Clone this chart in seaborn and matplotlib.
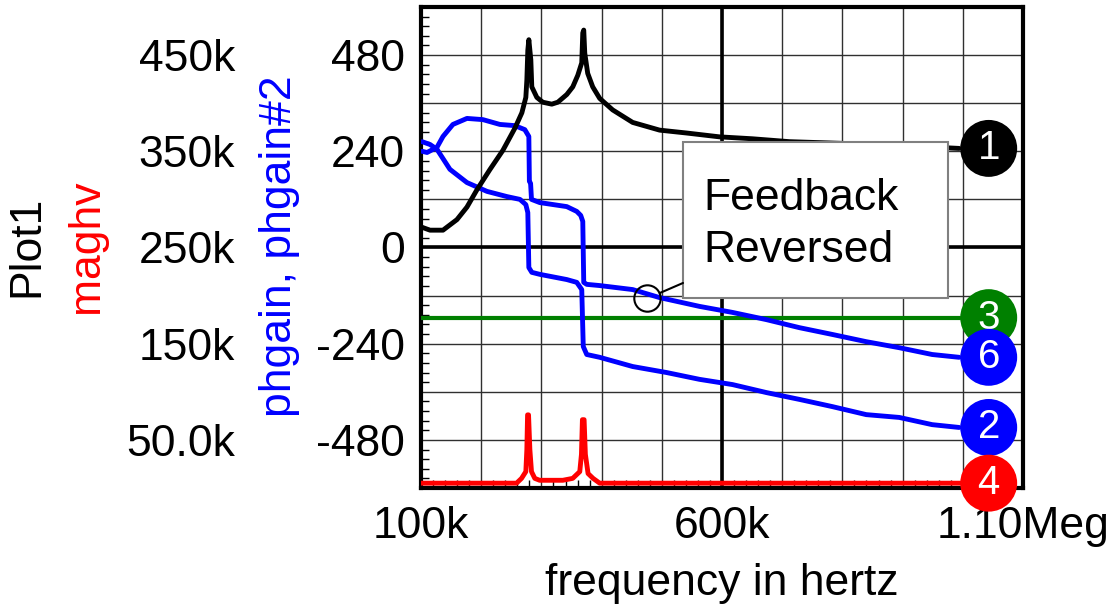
import matplotlib
matplotlib.use("Agg")
import numpy as np
import pandas as pd
import matplotlib.pyplot as plt
import seaborn as sns
from matplotlib.patches import Rectangle
from matplotlib.ticker import MultipleLocator, NullLocator

# ---- data (frequency in kHz) ----
# trace 1 (black), Plot1 scale, in k
f_black = [101.7, 114.9, 136.5, 159.7, 176.3, 192.9, 214.4, 236.0, 255.9, 267.5,
           274.1, 275.8, 277.4, 279.1, 282.4, 284.0, 292.4, 302.3, 317.2, 327.2,
           342.1, 352.1, 360.4, 367.0, 368.7, 370.3, 372.0, 376.9, 385.2, 396.8,
           418.4, 451.6, 496.3, 541.1, 595.9, 650.6, 712.0, 811.4, 894.4, 993.9]
v_black = [271, 268, 268, 279, 292, 310, 331, 351, 374, 390,
           406, 424, 455, 466, 445, 417, 406, 401, 399, 401,
           409, 417, 429, 442, 473, 476, 452, 431, 417, 405,
           393, 380, 372, 369, 365, 363, 360, 358, 356, 353]

# trace 4 (red), maghv in k
f_red = [100.0, 258.7, 267.0, 274.1, 275.8, 277.0, 278.6, 280.8, 283.5, 289.0, 297.0,
         335.5, 352.0, 363.7, 366.5, 368.1, 370.9, 373.0, 377.5, 385.8, 396.8, 995.0]
v_red = [5, 5, 10, 17, 40, 76, 76, 40, 17, 10, 8,
         8, 10, 17, 35, 71, 71, 35, 15, 10, 5, 5]

# trace 6 (blue), phgain#2 in degrees
f_ph2 = [101.7, 110.0, 126.5, 136.5, 153.0, 176.3, 202.8, 231.0, 255.9, 272.4,
         279.1, 280.0, 282.0, 283.5, 297.3, 342.1, 358.7, 365.3, 368.7, 370.3,
         375.3, 396.8, 451.6, 496.3, 562.7, 617.4, 673.8, 728.5, 783.3, 839.6,
         894.4, 949.1, 993.9]
v_ph2 = [240, 237, 250, 277, 307, 322, 319, 307, 304, 294,
         277, 165, 160, 120, 112, 102, 90, 80, 65, -87,
         -92, -95, -105, -125, -147, -162, -180, -200, -217, -235,
         -250, -267, -274]

# trace 2 (blue), phgain in degrees
f_ph = [101.7, 114.9, 126.5, 148.0, 176.3, 209.5, 242.7, 264.3, 274.1, 277.4,
        279.1, 284.0, 297.3, 342.1, 358.7, 367.0, 369.5, 375.3, 396.8, 451.6,
        508.0, 562.7, 617.4, 673.8, 728.5, 783.3, 839.6, 894.4, 949.1, 993.9]
v_ph = [264, 257, 245, 195, 162, 140, 127, 120, 107, 87,
        -50, -62, -67, -80, -87, -105, -247, -267, -274, -297,
        -312, -329, -342, -362, -379, -397, -417, -424, -442, -449]

# trace 3 (green), flat reference
f_ref = [100.0, 995.0]
v_ref = [-175, -175]

x_ticks = [100, 200, 300, 400, 500, 600, 700, 800, 900, 1000, 1100]
x_ticklabels = ['100k', '', '', '', '', '600k', '', '', '', '', '1.10Meg']
ph_ticks = [-600, -480, -360, -240, -120, 0, 120, 240, 360, 480, 600]
ph_ticklabels = ['', '-480', '', '-240', '', '0', '', '240', '', '480', '']
mag_ticks = [50, 150, 250, 350, 450]
mag_ticklabels = ['50.0k', '150k', '250k', '350k', '450k']

# ---- style ----
sns.set_style("white")
plt.rcParams['font.family'] = ['Liberation Sans', 'DejaVu Sans']
plt.rcParams.update({'text.color': 'black', 'axes.labelcolor': 'black',
                     'xtick.color': 'black', 'ytick.color': 'black'})
FS = 32

fig = plt.figure(figsize=(11.15, 6.08), dpi=100)
ax = fig.add_axes([0.3776, 0.1974, 0.5399, 0.7911])
ax2 = ax.twinx()

def df_of(f, v, scale):
    return pd.DataFrame({'f': np.array(f) * 1e3, 'v': np.array(v) * scale})

# phase traces on the inner axis
sns.lineplot(data=df_of(f_ref, v_ref, 1), x='f', y='v', ax=ax, color='#008000',
             lw=3.0, estimator=None, sort=False, zorder=3)
sns.lineplot(data=df_of(f_ph2, v_ph2, 1), x='f', y='v', ax=ax, color='#0000ff',
             lw=3.5, estimator=None, sort=False, zorder=3)
sns.lineplot(data=df_of(f_ph, v_ph, 1), x='f', y='v', ax=ax, color='#0000ff',
             lw=3.5, estimator=None, sort=False, zorder=3)

# magnitude traces on the outer axis
sns.lineplot(data=df_of(f_black, v_black, 1e3), x='f', y='v', ax=ax2, color='black',
             lw=3.5, estimator=None, sort=False, zorder=3)
sns.lineplot(data=df_of(f_red, v_red, 1e3), x='f', y='v', ax=ax2, color='#ff0000',
             lw=3.5, estimator=None, sort=False, zorder=3)

ax.set_xlim(100e3, 1.1e6)
ax.set_ylim(-600, 600)
ax2.set_ylim(0, 500e3)

ax.set_xticks(np.array(x_ticks) * 1e3)
ax.set_xticklabels(x_ticklabels)
ax.set_yticks(ph_ticks)
ax.set_yticklabels(ph_ticklabels)
ax.xaxis.set_minor_locator(MultipleLocator(20e3))
ax.yaxis.set_minor_locator(MultipleLocator(24))
ax.tick_params(which='major', length=0, labelsize=FS, labelcolor='black')
ax.tick_params(axis='y', which='major', pad=11.5)
ax.tick_params(axis='x', which='major', pad=13)
ax.tick_params(which='minor', direction='in', length=6, width=1.0, color='black',
               left=True, bottom=True, right=False, top=False)

ax2.yaxis.tick_left()
ax2.set_yticks(np.array(mag_ticks) * 1e3)
ax2.set_yticklabels(mag_ticklabels)
ax2.yaxis.set_minor_locator(NullLocator())
ax2.tick_params(axis='y', length=0, pad=134, labelsize=FS, labelcolor='black')
for s in ax2.spines.values():
    s.set_visible(False)

ax.grid(True, which='major', color='#303030', lw=1.0)
ax.set_axisbelow(True)
ax.axvline(600e3, color='black', lw=2.6, zorder=1.5)
ax.axhline(0, color='black', lw=2.6, zorder=1.5)
for s in ax.spines.values():
    s.set_visible(True)
    s.set_color('black')
    s.set_linewidth(3.0)

for a in (ax, ax2):
    a.set_xlabel('')
    a.set_ylabel('')

# numbered trace markers at the right end
LABEL_F = 1043e3
markers = [(ax2, v_black[-1] * 1e3, 'black', '1'),
           (ax, v_ref[-1], '#008000', '3'),
           (ax, v_ph2[-1], '#0000ff', '6'),
           (ax, v_ph[-1], '#0000ff', '2'),
           (ax2, v_red[-1] * 1e3, '#ff0000', '4')]
for i, (a, yv, col, lab) in enumerate(markers):
    a.scatter([LABEL_F], [yv], s=1680, color=col, clip_on=False, zorder=10 + i,
              edgecolors='none')
    a.text(LABEL_F, yv, lab, color='white', fontsize=29, ha='center', va='center',
           zorder=10.5 + i, clip_on=False)

# "Feedback Reversed" note
ax.plot([476e3], [-127], 'o', mfc='none', mec='black', ms=19, mew=1.5, zorder=6)
ax2.add_patch(Rectangle((0.4352, 0.395), 0.4402, 0.3243, transform=ax2.transAxes,
                        facecolor='white', edgecolor='#808080', lw=1.5, zorder=5))
ax2.annotate('', xy=(476e3, -127), xycoords=ax.transData,
             xytext=(0.4352, 0.4262), textcoords=ax2.transAxes,
             arrowprops=dict(arrowstyle='-', color='black', lw=1.5,
                             shrinkA=0, shrinkB=9.7), zorder=6)
ax2.text(0.4684, 0.578, 'Feedback', transform=ax2.transAxes, fontsize=FS,
         ha='left', va='baseline', zorder=6)
ax2.text(0.4684, 0.4699, 'Reversed', transform=ax2.transAxes, fontsize=FS,
         ha='left', va='baseline', zorder=6)

# axis titles
fig.text(722 / 1115, 1 - 595 / 608, 'frequency in hertz', ha='center', va='baseline',
         fontsize=FS)
fig.text(27 / 1115, 0.595, 'Plot1', rotation=90, ha='center', va='center', fontsize=FS)
fig.text(87 / 1115, 0.595, 'maghv', rotation=90, ha='center', va='center', fontsize=FS,
         color='#ff0000')
fig.text(280 / 1115, 0.595, 'phgain, phgain#2', rotation=90, ha='center', va='center',
         fontsize=FS, color='#0000ff')

fig.savefig('out.png', dpi=100)
